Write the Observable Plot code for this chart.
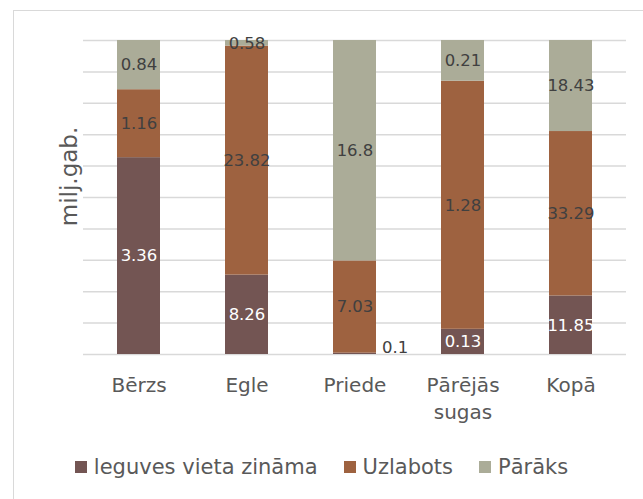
<!DOCTYPE html>
<html>
<head>
<meta charset="utf-8">
<script src="https://cdn.jsdelivr.net/npm/d3@7"></script>
<script src="https://cdn.jsdelivr.net/npm/@observablehq/plot@0.6"></script>
<style>
  html, body { margin: 0; padding: 0; background: #fff; }
  #wrap { position: relative; width: 643px; height: 499px; overflow: hidden; font-family: "DejaVu Sans", sans-serif; }
  #frame { position: absolute; left: 13px; top: 10px; width: 700px; height: 600px; border-left: 1.5px solid #d9d9d9; border-top: 1.5px solid #d9d9d9; }
  #chart { position: absolute; left: 0; top: 0; }
  #legend { position: absolute; left: 0; top: 455px; width: 643px; display: flex; justify-content: center; gap: 26px; color: #595959; font-size: 21px; }
  .item { display: flex; align-items: center; gap: 7px; }
  .sw { width: 12px; height: 12px; display: inline-block; }
</style>
</head>
<body>
<div id="wrap">
  <div id="frame"></div>
  <div id="chart"></div>
  <div id="legend"></div>
</div>
<script>
const categories = ["Bērzs", "Egle", "Priede", "Pārējās sugas", "Kopā"];
const series = ["leguves vieta zināma", "Uzlabots", "Pārāks"];
const colors = ["#735553", "#9e6240", "#abac98"];
const known = [3.36, 8.26, 0.1, 0.13, 11.85];
const improved = [1.16, 23.82, 7.03, 1.28, 33.29];
const superior = [0.84, 0.58, 16.8, 0.21, 18.43];
const yTitle = "milj.gab.";
const gridTicks = [0, 0.1, 0.2, 0.3, 0.4, 0.5, 0.6, 0.7, 0.8, 0.9, 1];

const seriesValues = [known, improved, superior];
const rows = [];
series.forEach((s, si) => {
  categories.forEach((c, ci) => {
    rows.push({cat: c, series: s, value: seriesValues[si][ci], total: known[ci] + improved[ci] + superior[ci]});
  });
});
const small = d => d.value / d.total < 0.01;
const fmt = d => String(d.value);

const stackOpts = (text) => Plot.stackY({x: "cat", y: "value", z: "series", offset: "normalize", text});

const plot = Plot.plot({
  width: 643,
  height: 499,
  marginLeft: 83,
  marginRight: 17,
  marginTop: 40,
  marginBottom: 145,
  style: {fontFamily: "DejaVu Sans, sans-serif", background: "transparent"},
  x: {domain: categories, paddingInner: 0.6, paddingOuter: 0.3, label: null},
  y: {domain: [0, 1], axis: null},
  color: {domain: series, range: colors},
  marks: [
    Plot.ruleY(gridTicks, {stroke: "#d9d9d9", strokeWidth: 1.5}),
    Plot.barY(rows, {x: "cat", y: "value", z: "series", fill: "series", offset: "normalize"}),
    Plot.text(rows, {...stackOpts(d => d.series === series[0] && !small(d) ? fmt(d) : ""), fill: "white", fontSize: 16.5}),
    Plot.text(rows, {...stackOpts(d => d.series !== series[0] ? fmt(d) : ""), fill: "#404040", fontSize: 16.5}),
    Plot.text(rows, {...stackOpts(d => small(d) ? fmt(d) : ""), fill: "#404040", fontSize: 16.5, textAnchor: "start", dx: 27, dy: -6}),
    Plot.axisX({tickSize: 0, tickPadding: 18, fontSize: 20, lineHeight: 1.35, color: "#595959", label: null,
      tickFormat: d => d.replace(" ", "\n")}),
    Plot.text([yTitle], {frameAnchor: "left", textAnchor: "middle", text: d => d, rotate: -90, dx: -14, dy: -21, fontSize: 23, fill: "#595959"})
  ]
});
document.getElementById("chart").appendChild(plot);

const legend = document.getElementById("legend");
series.forEach((s, i) => {
  const item = document.createElement("div");
  item.className = "item";
  const sw = document.createElement("span");
  sw.className = "sw";
  sw.style.background = colors[i];
  const t = document.createElement("span");
  t.textContent = s;
  item.appendChild(sw);
  item.appendChild(t);
  legend.appendChild(item);
});
</script>
</body>
</html>
